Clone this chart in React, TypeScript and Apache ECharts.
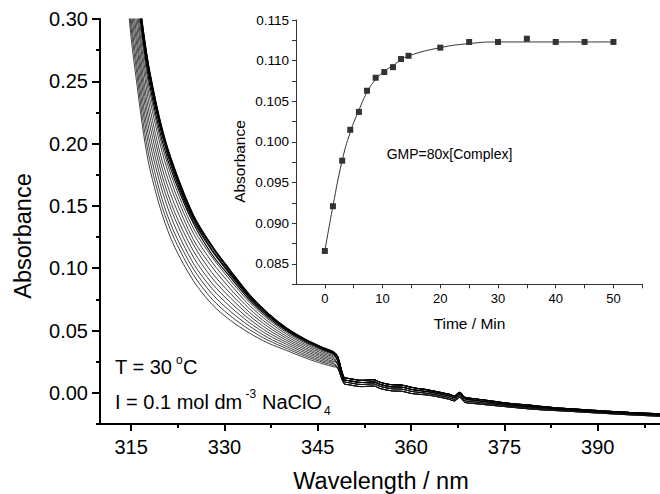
import React, { useEffect, useRef } from "react";
import * as echarts from "echarts";

const FONT = '"Liberation Sans", Arial, Helvetica, sans-serif';

// ---- Main plot: UV spectra (Absorbance vs wavelength) ----
const headWavelengths = [314, 315, 316, 317, 318, 320, 322, 325, 328, 331, 334, 337, 340, 343, 346, 347.5];
const spectraHeads = [
  [0.340, 0.285, 0.245, 0.208, 0.180, 0.143, 0.117, 0.0900, 0.0710, 0.0580, 0.0480, 0.0400, 0.0340, 0.0280, 0.0230, 0.0210],
  [0.347, 0.293, 0.253, 0.215, 0.187, 0.149, 0.123, 0.0948, 0.0752, 0.0616, 0.0508, 0.0422, 0.0356, 0.0294, 0.0242, 0.0221],
  [0.354, 0.300, 0.260, 0.223, 0.194, 0.155, 0.128, 0.0995, 0.0795, 0.0652, 0.0536, 0.0443, 0.0372, 0.0307, 0.0253, 0.0232],
  [0.362, 0.308, 0.268, 0.230, 0.201, 0.162, 0.134, 0.1040, 0.0837, 0.0688, 0.0564, 0.0465, 0.0389, 0.0321, 0.0265, 0.0242],
  [0.369, 0.316, 0.276, 0.238, 0.208, 0.168, 0.140, 0.1090, 0.0879, 0.0724, 0.0592, 0.0486, 0.0405, 0.0334, 0.0277, 0.0253],
  [0.376, 0.323, 0.283, 0.245, 0.215, 0.174, 0.145, 0.1140, 0.0922, 0.0760, 0.0620, 0.0508, 0.0421, 0.0348, 0.0289, 0.0264],
  [0.383, 0.331, 0.291, 0.252, 0.222, 0.180, 0.151, 0.1190, 0.0964, 0.0796, 0.0647, 0.0530, 0.0437, 0.0361, 0.0300, 0.0275],
  [0.390, 0.339, 0.299, 0.260, 0.229, 0.186, 0.157, 0.1230, 0.1010, 0.0832, 0.0675, 0.0551, 0.0453, 0.0375, 0.0312, 0.0286],
  [0.398, 0.346, 0.306, 0.267, 0.236, 0.193, 0.162, 0.1280, 0.1050, 0.0868, 0.0703, 0.0573, 0.0470, 0.0388, 0.0324, 0.0296],
  [0.404, 0.353, 0.313, 0.274, 0.242, 0.198, 0.167, 0.1320, 0.1090, 0.0900, 0.0728, 0.0592, 0.0484, 0.0400, 0.0334, 0.0306],
  [0.409, 0.358, 0.318, 0.279, 0.247, 0.202, 0.171, 0.1360, 0.1110, 0.0924, 0.0747, 0.0606, 0.0495, 0.0409, 0.0342, 0.0313],
  [0.413, 0.362, 0.322, 0.283, 0.251, 0.206, 0.174, 0.1380, 0.1140, 0.0944, 0.0762, 0.0618, 0.0504, 0.0417, 0.0348, 0.0319],
  [0.415, 0.365, 0.325, 0.285, 0.253, 0.208, 0.176, 0.1400, 0.1150, 0.0956, 0.0771, 0.0626, 0.0509, 0.0421, 0.0352, 0.0323],
  [0.418, 0.367, 0.327, 0.288, 0.256, 0.210, 0.178, 0.1410, 0.1170, 0.0968, 0.0781, 0.0633, 0.0515, 0.0426, 0.0356, 0.0326],
  [0.419, 0.369, 0.329, 0.289, 0.257, 0.211, 0.179, 0.1420, 0.1180, 0.0976, 0.0787, 0.0638, 0.0518, 0.0429, 0.0359, 0.0329],
  [0.420, 0.370, 0.330, 0.290, 0.258, 0.212, 0.180, 0.1430, 0.1180, 0.0980, 0.0790, 0.0640, 0.0520, 0.0430, 0.0360, 0.0330],
];
const tailWavelengths = [348.2, 349.2, 350, 352, 354, 355, 357, 358.5, 360, 363, 366, 367, 367.8, 368.6, 370, 375, 380, 385, 390, 395, 400];
const tailLow = [0.020, 0.0075, 0.0065, 0.0050, 0.0055, 0.0035, 0.0015, 0.0013, -0.0005, -0.0020, -0.0050, -0.0065, -0.0035, -0.0075, -0.0085, -0.0110, -0.0133, -0.0147, -0.0162, -0.0176, -0.0188];
const tailMidLow = [0.023, 0.0092, 0.0082, 0.0067, 0.0072, 0.0052, 0.0032, 0.0030, 0.0012, -0.0007, -0.0037, -0.0052, -0.0022, -0.0062, -0.0072, -0.0100, -0.0123, -0.0140, -0.0155, -0.0169, -0.0181];
const tailMidHigh = [0.026, 0.0108, 0.0098, 0.0083, 0.0088, 0.0068, 0.0048, 0.0046, 0.0028, 0.0007, -0.0023, -0.0038, -0.0008, -0.0048, -0.0058, -0.0090, -0.0113, -0.0134, -0.0149, -0.0163, -0.0175];
const tailHigh = [0.029, 0.0125, 0.0115, 0.0100, 0.0105, 0.0085, 0.0065, 0.0063, 0.0045, 0.0020, -0.0010, -0.0025, 0.0005, -0.0035, -0.0045, -0.0080, -0.0103, -0.0127, -0.0142, -0.0156, -0.0168];
const tails = [tailLow, tailMidLow, tailMidHigh, tailHigh];
const tailOfSpectrum = [0, 0, 0, 0, 1, 1, 1, 1, 2, 2, 2, 2, 3, 3, 3, 3];

const mainYTicks = [0, 0.05, 0.1, 0.15, 0.2, 0.25, 0.3];
const mainYMinorTicks = [-0.025, 0.025, 0.075, 0.125, 0.175, 0.225, 0.275];
const mainXTicks = [315, 330, 345, 360, 375, 390];
const mainXMinorTicks = [322.5, 337.5, 352.5, 367.5, 382.5, 397.5];

// ---- Inset: absorbance vs time ----
const insetTimes = [0, 1.4, 3, 4.4, 5.9, 7.3, 8.8, 10.3, 11.8, 13.2, 14.5, 20, 25, 30, 35, 40, 45, 50];
const insetAbs = [0.0866, 0.0921, 0.0977, 0.1015, 0.1037, 0.1063, 0.1079, 0.1086, 0.1092, 0.1102, 0.1106, 0.1116, 0.1123, 0.1123, 0.1127, 0.1123, 0.1123, 0.1123];
const fitTimes = [0, 1.4, 3, 4.4, 5.9, 7.3, 8.8, 10.3, 11.8, 13.2, 14.5, 20, 25, 30, 40, 50];
const fitAbs = [0.0866, 0.0921, 0.0977, 0.1012, 0.1039, 0.1061, 0.1077, 0.1087, 0.1094, 0.1101, 0.1106, 0.1116, 0.1121, 0.1123, 0.1123, 0.1123];
const insetXTicks = [0, 10, 20, 30, 40, 50];
const insetXMinorTicks = [5, 15, 25, 35, 45, 55];
const insetYTicks = [0.085, 0.09, 0.095, 0.1, 0.105, 0.11, 0.115];
const insetYMinorTicks = [0.0825, 0.0875, 0.0925, 0.0975, 0.1025, 0.1075, 0.1125];

const txt = (text: string, x: number, y: number, size: number, align = "left", extra: any = {}) => ({
  type: "text",
  x,
  y,
  silent: true,
  ...extra,
  style: {
    text,
    x: 0,
    y: 0,
    fill: "#000",
    fontSize: size,
    fontFamily: FONT,
    font: `${size}px ${FONT}`,
    align,
    textAlign: align,
    verticalAlign: "middle",
    textVerticalAlign: "middle",
  },
});

export default function App() {
  const ref = useRef<HTMLDivElement>(null);
  useEffect(() => {
    if (!ref.current) return;
    const chart = echarts.init(ref.current, undefined, { renderer: "svg" });

    const mainSeries = spectraHeads.map((head, i) => ({
      type: "line",
      xAxisIndex: 0,
      yAxisIndex: 0,
      symbol: "none",
      showSymbol: false,
      smooth: 0.3,
      silent: true,
      lineStyle: { color: i < 10 ? "#111" : "#000", width: i < 10 ? 0.8 : 1.1 },
      data: headWavelengths
        .map((w, j) => [w, head[j]])
        .concat(tailWavelengths.map((w, j) => [w, tails[tailOfSpectrum[i]][j]])),
    }));

    const sortNum = (a: number[]) => [...a].sort((p, q) => p - q);

    const option: any = {
      animation: false,
      textStyle: { fontFamily: FONT },
      grid: [
        { left: 100, top: 19, width: 562, height: 405 },
        { left: 296, top: 20, width: 346.3, height: 264.3 },
      ],
      xAxis: [
        {
          type: "value", gridIndex: 0, min: 310, max: 400, position: "bottom",
          axisLine: { onZero: false, lineStyle: { color: "#000", width: 2 } },
          axisTick: { customValues: mainXTicks, length: 7, lineStyle: { color: "#000", width: 2 } },
          axisLabel: { customValues: mainXTicks, fontSize: 20, color: "#000", fontFamily: FONT, margin: 13, formatter: (v: number) => String(v) },
          splitLine: { show: false },
        },
        {
          type: "value", gridIndex: 0, min: 310, max: 400, position: "bottom",
          axisLine: { show: false, onZero: false },
          axisTick: { customValues: mainXMinorTicks, length: 4, lineStyle: { color: "#000", width: 2 } },
          axisLabel: { show: false },
          splitLine: { show: false },
        },
        {
          type: "value", gridIndex: 1, min: -5, max: 55, position: "bottom",
          axisLine: { onZero: false, lineStyle: { color: "#333", width: 1 } },
          axisTick: { customValues: sortNum([...insetXTicks, ...insetXMinorTicks]), length: 4, lineStyle: { color: "#333", width: 1 } },
          axisLabel: { customValues: insetXTicks, fontSize: 13, color: "#000", fontFamily: FONT, margin: 8, formatter: (v: number) => String(v) },
          splitLine: { show: false },
        },
      ],
      yAxis: [
        {
          type: "value", gridIndex: 0, min: -0.025, max: 0.3, position: "left",
          axisLine: { onZero: false, lineStyle: { color: "#000", width: 2 } },
          axisTick: { customValues: mainYTicks, length: 8, lineStyle: { color: "#000", width: 2 } },
          axisLabel: { customValues: mainYTicks, fontSize: 20, color: "#000", fontFamily: FONT, margin: 12, formatter: (v: number) => v.toFixed(2) },
          splitLine: { show: false },
        },
        {
          type: "value", gridIndex: 0, min: -0.025, max: 0.3, position: "left",
          axisLine: { show: false, onZero: false },
          axisTick: { customValues: mainYMinorTicks, length: 4, lineStyle: { color: "#000", width: 2 } },
          axisLabel: { show: false },
          splitLine: { show: false },
        },
        {
          type: "value", gridIndex: 1, min: 0.0825, max: 0.115, position: "left",
          axisLine: { onZero: false, lineStyle: { color: "#333", width: 1 } },
          axisTick: { customValues: sortNum([...insetYTicks, ...insetYMinorTicks]), length: 4, lineStyle: { color: "#333", width: 1 } },
          axisLabel: { customValues: insetYTicks, fontSize: 13.5, color: "#000", fontFamily: FONT, margin: 7, formatter: (v: number) => v.toFixed(3) },
          splitLine: { show: false },
        },
      ],
      series: [
        ...mainSeries,
        {
          type: "line", xAxisIndex: 2, yAxisIndex: 2, symbol: "none", smooth: true, silent: true,
          lineStyle: { color: "#333", width: 1 },
          data: fitTimes.map((t, i) => [t, fitAbs[i]]),
        },
        {
          type: "scatter", xAxisIndex: 2, yAxisIndex: 2, symbol: "rect", symbolSize: 6, silent: true,
          itemStyle: { color: "#000" },
          data: insetTimes.map((t, i) => [t, insetAbs[i]]),
        },
      ],
      graphic: [
        txt("Absorbance", 23, 236, 23.5, "center", { rotation: Math.PI / 2 }),
        txt("Wavelength / nm", 381, 481, 23.5, "center"),
        txt("Absorbance", 239, 161.5, 15.5, "center", { rotation: Math.PI / 2 }),
        txt("Time / Min", 469.5, 323, 15.5, "center"),
        txt("GMP=80x[Complex]", 386.7, 154, 14, "left"),
        txt("T = 30", 115, 366.5, 20, "left"),
        txt("o", 176, 359.5, 12, "left"),
        txt("C", 183, 366.5, 20, "left"),
        txt("I = 0.1 mol dm", 115, 402, 20, "left"),
        txt("-3", 245.5, 394, 12, "left"),
        txt("NaClO", 262, 402, 20, "left"),
        txt("4", 324, 411, 12, "left"),
      ],
    };

    chart.setOption(option);
    return () => chart.dispose();
  }, []);

  return (
    <div
      ref={ref}
      style={{ position: "fixed", left: 0, top: 0, width: 660, height: 494, background: "#fff" }}
    />
  );
}
